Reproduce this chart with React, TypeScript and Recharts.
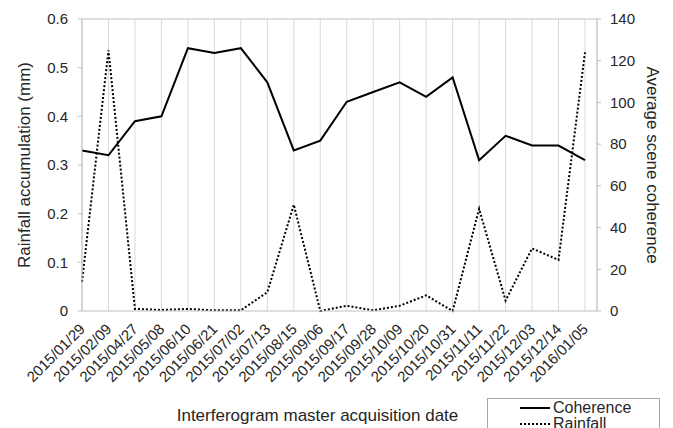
import React from "react";
import {
  CartesianGrid,
  Line,
  LineChart,
  ReferenceLine,
  XAxis,
  YAxis,
} from "recharts";

/* Coherence vs rainfall per interferogram master date. Excel-like styling. */

const dates = [
  "2015/01/29", "2015/02/09", "2015/04/27", "2015/05/08", "2015/06/10",
  "2015/06/21", "2015/07/02", "2015/07/13", "2015/08/15", "2015/09/06",
  "2015/09/17", "2015/09/28", "2015/10/09", "2015/10/20", "2015/10/31",
  "2015/11/11", "2015/11/22", "2015/12/03", "2015/12/14", "2016/01/05",
];
const coherence = [
  0.33, 0.32, 0.39, 0.4, 0.54, 0.53, 0.54, 0.47, 0.33, 0.35,
  0.43, 0.45, 0.47, 0.44, 0.48, 0.31, 0.36, 0.34, 0.34, 0.31,
];
const rainfall = [
  14, 125, 1, 0.5, 1, 0.3, 0.3, 9, 51, 0,
  2.5, 0.3, 2.5, 7.5, 0, 49, 5, 30, 24.5, 124,
];
const leftTicks = [0, 0.1, 0.2, 0.3, 0.4, 0.5, 0.6];
const rightTicks = [0, 20, 40, 60, 80, 100, 120, 140];

const SERIES_COH = "Coherence";
const SERIES_RAIN = "Rainfall";

const data = dates.map((d, i) => ({
  date: d,
  coherence: coherence[i],
  rainfall: rainfall[i],
}));

const FONT = "'Liberation Sans', Arial, sans-serif";
const TEXT = "#262626";
const GRID = "#d9d9d9";
const AXIS = "#bfbfbf";

function DateTick(props: any) {
  const { x, y, payload } = props;
  return (
    <text
      x={x + 4}
      y={y + 11}
      textAnchor="end"
      fontSize={15}
      fontFamily={FONT}
      fill={TEXT}
      transform={`rotate(-45 ${x + 4} ${y + 11})`}
    >
      {payload.value}
    </text>
  );
}

function RotLabel(props: any) {
  const { viewBox, text, shift, rot } = props;
  const cx = viewBox.x + shift;
  const cy = viewBox.y + viewBox.height / 2;
  return (
    <text
      x={cx}
      y={cy}
      textAnchor="middle"
      dominantBaseline="central"
      fontSize={17}
      fontFamily={FONT}
      fill={TEXT}
      transform={`rotate(${rot} ${cx} ${cy})`}
    >
      {text}
    </text>
  );
}

function XTitle(props: any) {
  const { viewBox } = props;
  return (
    <text
      x={viewBox.x + viewBox.width / 2 - 22}
      y={421}
      textAnchor="middle"
      fontSize={17}
      fontFamily={FONT}
      fill={TEXT}
    >
      Interferogram master acquisition date
    </text>
  );
}

function LegendBox() {
  const row = (name: string, dash?: string) => (
    <div style={{ display: "flex", alignItems: "center", height: 16 }}>
      <svg width={30} height={6} style={{ marginRight: 3 }}>
        <line
          x1={0}
          x2={30}
          y1={3}
          y2={3}
          stroke="#000"
          strokeWidth={2}
          strokeDasharray={dash}
        />
      </svg>
      <span>{name}</span>
    </div>
  );
  return (
    <div
      style={{
        position: "absolute",
        left: 487,
        top: 398,
        width: 173,
        height: 40,
        border: "1px solid #a6a6a6",
        boxSizing: "border-box",
        paddingLeft: 32,
        paddingTop: 1,
        fontFamily: FONT,
        fontSize: 16,
        color: TEXT,
        lineHeight: "16px",
        background: "#fff",
      }}
    >
      {row(SERIES_COH)}
      {row(SERIES_RAIN, "2 2")}
    </div>
  );
}

export default function App() {
  return (
    <div
      style={{
        position: "absolute",
        left: 0,
        top: 0,
        width: 673,
        height: 428,
        overflow: "hidden",
        background: "#fff",
      }}
    >
      <LineChart
        width={673}
        height={428}
        data={data}
        margin={{ top: 19, right: 6, bottom: 0, left: 16 }}
      >
        <CartesianGrid stroke={GRID} horizontal={false} />
        <XAxis
          dataKey="date"
          scale="point"
          padding={{ left: 0, right: 12 }}
          height={117}
          interval={0}
          tick={<DateTick />}
          tickLine={false}
          axisLine={{ stroke: AXIS }}
          label={<XTitle />}
        />
        <YAxis
          yAxisId="left"
          width={66}
          domain={[0, 0.6]}
          ticks={leftTicks}
          tick={{ fontSize: 15, fontFamily: FONT, fill: TEXT, dx: -8 }}
          tickSize={4}
          tickLine={{ stroke: AXIS }}
          axisLine={{ stroke: AXIS }}
          label={<RotLabel text="Rainfall accumulation (mm)" shift={8} rot={-90} />}
        />
        <YAxis
          yAxisId="right"
          orientation="right"
          width={70}
          domain={[0, 140]}
          ticks={rightTicks}
          tick={{ fontSize: 15, fontFamily: FONT, fill: TEXT, dx: 7 }}
          tickSize={4}
          tickLine={{ stroke: AXIS }}
          axisLine={{ stroke: AXIS }}
          label={<RotLabel text="Average scene coherence" shift={55} rot={90} />}
        />
        <ReferenceLine yAxisId="left" y={0.6} stroke={AXIS} />
        <Line
          yAxisId="left"
          dataKey="coherence"
          name={SERIES_COH}
          stroke="#000"
          strokeWidth={2}
          dot={false}
          isAnimationActive={false}
        />
        <Line
          yAxisId="right"
          dataKey="rainfall"
          name={SERIES_RAIN}
          stroke="#000"
          strokeWidth={2}
          strokeDasharray="2 2"
          dot={false}
          isAnimationActive={false}
        />
      </LineChart>
      <LegendBox />
    </div>
  );
}
